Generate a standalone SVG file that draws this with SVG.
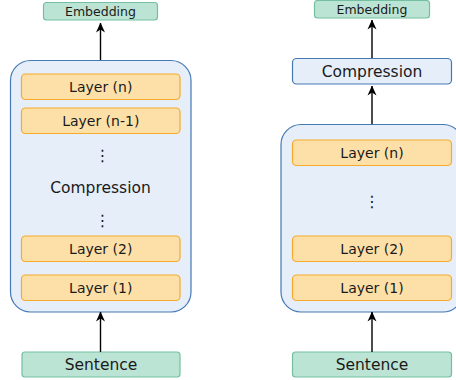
<svg xmlns="http://www.w3.org/2000/svg" width="456" height="380" viewBox="0 0 456 380">
<defs>
<style>
.t{font-family:"DejaVu Sans",sans-serif;fill:#1a1a1a;text-anchor:middle}
.grn{fill:#bce4d4;stroke:#74bfa2;stroke-width:1.2}
.lay{fill:#fde0a8;stroke:#f5aa2a;stroke-width:1.2}
.cont{fill:#e6eefa;stroke:#4479b4;stroke-width:1.2}
.con{stroke:#000;stroke-width:1.4;fill:none}
</style>
<marker id="ah" viewBox="0 0 10 10" refX="9.5" refY="5" markerWidth="10" markerHeight="10" markerUnits="userSpaceOnUse" orient="auto">
<path d="M0,0.5 L10,5 L0,9.5 L3,5 Z" fill="#000"/>
</marker>
</defs>
<g id="left-container">
<rect class="cont" x="10.5" y="60.5" width="180.5" height="251.5" rx="20"/>
<text class="t" x="102.5" y="161" font-size="16">⋮</text>
<text class="t" x="100.5" y="192.5" font-size="15.5">Compression</text>
<text class="t" x="102.5" y="226" font-size="16">⋮</text>
</g>
<g id="left-layer-n"><rect class="lay" x="21.5" y="74" width="158.5" height="25.5" rx="4"/><text class="t" x="100.75" y="91.8" font-size="14">Layer (n)</text></g>
<g id="left-layer-n1"><rect class="lay" x="21.5" y="108" width="158.5" height="25.5" rx="4"/><text class="t" x="100.75" y="125.8" font-size="14">Layer (n-1)</text></g>
<g id="left-layer-2"><rect class="lay" x="21.5" y="236" width="158.5" height="25.5" rx="4"/><text class="t" x="100.75" y="253.8" font-size="14">Layer (2)</text></g>
<g id="left-layer-1"><rect class="lay" x="21.5" y="275" width="158.5" height="25.5" rx="4"/><text class="t" x="100.75" y="292.8" font-size="14">Layer (1)</text></g>
<g id="left-embedding"><rect class="grn" x="43.5" y="2.5" width="114" height="17.5" rx="3"/><text class="t" x="100.5" y="15.6" font-size="12.5">Embedding</text></g>
<g id="left-sentence"><rect class="grn" x="22" y="352" width="158" height="25" rx="3"/><text class="t" x="101" y="370" font-size="15.5">Sentence</text></g>

<g id="right-container">
<rect class="cont" x="281" y="124.5" width="182" height="187.5" rx="20"/>
<text class="t" x="372" y="207" font-size="16">⋮</text>
</g>
<g id="right-layer-n"><rect class="lay" x="292.5" y="140" width="159" height="25.5" rx="4"/><text class="t" x="372" y="157.8" font-size="14">Layer (n)</text></g>
<g id="right-layer-2"><rect class="lay" x="292.5" y="236" width="159" height="25.5" rx="4"/><text class="t" x="372" y="253.8" font-size="14">Layer (2)</text></g>
<g id="right-layer-1"><rect class="lay" x="292.5" y="275" width="159" height="25.5" rx="4"/><text class="t" x="372" y="292.8" font-size="14">Layer (1)</text></g>
<g id="right-compression"><rect class="cont" x="292.5" y="58.5" width="159" height="25.5" rx="4"/><text class="t" x="372" y="76.8" font-size="15.5">Compression</text></g>
<g id="right-embedding"><rect class="grn" x="314.5" y="0.5" width="115" height="17.5" rx="3"/><text class="t" x="372" y="13.6" font-size="12.5">Embedding</text></g>
<g id="right-sentence"><rect class="grn" x="292.5" y="352" width="159" height="25" rx="3"/><text class="t" x="372" y="370" font-size="15.5">Sentence</text></g>

<g id="connectors">
<line class="con" x1="100.5" y1="60" x2="100.5" y2="23" marker-end="url(#ah)"/>
<line class="con" x1="100.5" y1="352" x2="100.5" y2="312" marker-end="url(#ah)"/>
<line class="con" x1="372" y1="58" x2="372" y2="20" marker-end="url(#ah)"/>
<line class="con" x1="372" y1="124" x2="372" y2="86" marker-end="url(#ah)"/>
<line class="con" x1="372" y1="352" x2="372" y2="312" marker-end="url(#ah)"/>
</g>
</svg>
